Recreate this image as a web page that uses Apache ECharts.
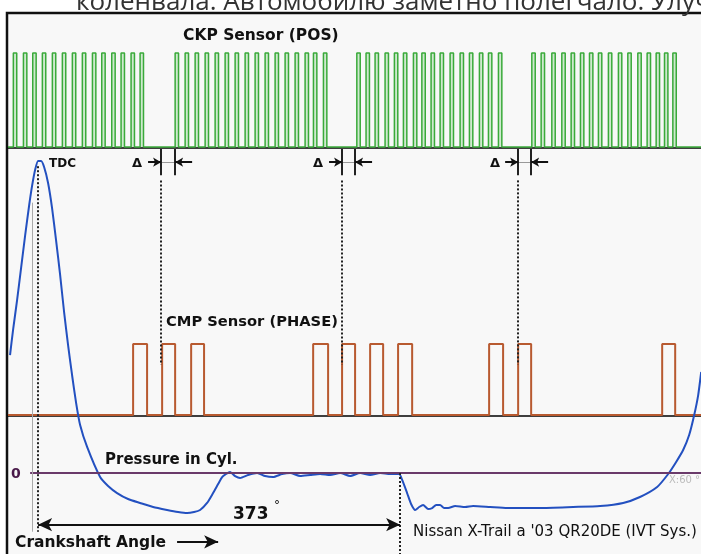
<!DOCTYPE html>
<html>
<head>
<meta charset="utf-8">
<script src="https://cdn.jsdelivr.net/npm/echarts@6/dist/echarts.min.js"></script>
<style>
html, body { margin: 0; padding: 0; background: #fff; }
#chart { width: 701px; height: 554px; }
</style>
</head>
<body>
<div id="chart"></div>
<script>
// crank angle range shown (deg, TDC = 0)
let axisMin = -31
let axisMax = 683

// CKP (POS) sensor: rising edge of every tooth, deg
let ckpTeeth = [-25.5, -15.1, -5.5, 4.4, 14.7, 25.0, 35.3, 45.6, 56.0, 65.6, 75.9, 85.5, 95.8, 105.1,
    141.2, 151.5, 161.8, 172.1, 182.4, 192.7, 203.0, 213.3, 223.6, 233.9, 244.2, 254.5, 264.8, 275.1, 283.7, 294.0,
    328.4, 337.9, 347.2, 357.5, 367.1, 376.4, 386.7, 395.4, 404.9, 414.2, 424.5, 434.8, 444.4, 454.7, 464.0, 474.3,
    508.7, 518.3, 529.3, 539.6, 549.2, 558.8, 568.1, 577.3, 587.6, 597.9, 607.6, 617.9, 627.5, 636.8, 645.4, 654.0]
let ckpToothWidth = 3.5

// CMP (PHASE) sensor pulses [rise, fall], deg
let cmpPulses = [[97.9, 112.3], [127.8, 141.2], [157.7, 171.0], [283.4, 298.8], [313.2, 326.6],
    [342.1, 355.5], [370.9, 385.4], [464.7, 479.1], [494.6, 508.0], [643.0, 656.4]]

// pressure in cylinder
let pressureAngle = [-28.9, -25.8, -21.6, -17.5, -13.4, -9.3, -6.2, -3.1, 0, 3.1, 6.2, 10.3, 14.4, 18.5,
    22.7, 26.8, 30.9, 35.0, 39.2, 43.3, 50.5,
    63.9, 72.1, 81.4, 92.7, 105.1, 118.5, 132.9, 144.3, 153.5, 160.7, 166.9, 174.1,
    180.3, 185.5, 189.6, 193.7, 197.8, 203.0, 208.1, 216.4, 225.7, 233.9, 242.1, 251.4, 259.7, 270.0,
    280.3, 290.6, 300.9, 311.2, 321.5, 331.8, 342.1, 352.4, 362.7, 372.0, 375.1, 380.2, 384.3, 388.5,
    392.6, 396.7, 401.9, 406.0, 410.1, 414.2, 418.3, 422.5, 429.7, 440.0, 448.2, 465.7, 483.3, 517.3,
    551.3, 579.1, 602.8, 620.1, 637.8, 649.2, 657.4, 664.6, 670.8, 676.0, 680.1, 683.2]
let pressureValue = [11.65, 14.12, 17.09, 20.25, 23.41, 26.37, 28.35, 29.93, 30.82, 30.82, 30.22, 28.64, 26.17, 23.01,
    19.56, 15.90, 12.64, 9.68, 6.91, 4.74, 2.57,
    -0.40, -1.28, -1.98, -2.57, -2.96, -3.36, -3.65, -3.85, -3.95, -3.85, -3.65, -2.96,
    -1.98, -1.09, -0.40, -0.10, 0.10, -0.30, -0.49, -0.20, 0, -0.30, -0.40, -0.10, 0, -0.30,
    -0.20, -0.10, -0.20, 0, -0.30, 0, -0.20, 0, -0.10, -0.10, -0.69, -1.98, -3.06, -3.65,
    -3.36, -3.16, -3.56, -3.46, -3.16, -3.16, -3.46, -3.46, -3.26, -3.36, -3.26, -3.36, -3.46, -3.46,
    -3.36, -3.26, -2.96, -2.37, -1.38, -0.10, 1.09, 2.27, 3.75, 5.73, 7.70, 9.98]

// Δ markers: CMP edge -> CKP group start, deg
let deltaMarks = [[126.7, 141.2], [313.2, 326.6], [494.6, 508.0]]
let tdcAngle = 0
let spanAngle = 373

function stepData(edges) {
    let d = [[axisMin, 0]]
    edges.forEach(e => {
        d.push([e[0], 0], [e[0], 1], [e[1], 1], [e[1], 0])
    })
    d.push([axisMax, 0])
    return d
}

function seg(x1, y1, x2, y2) {
    return [{coord: [x1, y1]}, {coord: [x2, y2]}]
}

function txt(x, y, text, font, color, align) {
    return {
        type: 'text', z: 100,
        style: {x: x, y: y, text: text, font: font, fill: color || '#111',
            textAlign: align || 'left', textVerticalAlign: 'middle'}
    }
}

let comic = '"DejaVu Sans", sans-serif'
let noLine = {show: false}

let dotted = [], deltaSolid = [], deltaThin = [], deltaArrows = []
deltaMarks.forEach(m => {
    dotted.push(seg(m[0], 28.9, m[0], 10.7))
    deltaSolid.push(seg(m[0], 32, m[0], 29.4), seg(m[1], 32, m[1], 29.4))
    deltaThin.push(seg(m[0], 30.7, m[1], 30.7))
    deltaArrows.push(seg(m[0] - 13.4, 30.7, m[0], 30.7), seg(m[1] + 17.5, 30.7, m[1], 30.7))
})
dotted.push(seg(tdcAngle, 30.3, tdcAngle, -5.8))
dotted.push(seg(spanAngle, 0, spanAngle, -8))

function markSeries(lines, style, symbol, symbolSize) {
    return {
        type: 'line', xAxisIndex: 2, yAxisIndex: 2, data: [], z: 1,
        markLine: {
            silent: true, animation: false,
            symbol: symbol || ['none', 'none'], symbolSize: symbolSize || 8,
            label: {show: false}, emphasis: {disabled: true},
            lineStyle: style, data: lines
        }
    }
}

let myChart = echarts.init(document.getElementById('chart'))
let option = {
    animation: false,
    backgroundColor: '#fff',
    grid: [
        {left: 8, right: 0, top: 53, height: 94},   // CKP
        {left: 8, right: 0, top: 344, height: 71},  // CMP
        {left: 8, right: 0, top: 149, height: 405}  // pressure
    ],
    xAxis: [0, 1, 2].map(i => ({
        type: 'value', gridIndex: i, min: axisMin, max: axisMax, show: i < 2, offset: 1,
        axisLine: {show: true, onZero: false, lineStyle: {color: '#000', width: 1.5}},
        axisTick: noLine, axisLabel: noLine, splitLine: noLine
    })),
    yAxis: [
        {type: 'value', gridIndex: 0, min: 0, max: 1, show: false},
        {type: 'value', gridIndex: 1, min: 0, max: 1, show: false},
        {type: 'value', gridIndex: 2, min: -8, max: 32, show: false}
    ],
    series: [
        markSeries([seg(-8.2, 0, axisMax, 0)], {color: '#6a3a6a', width: 2, type: 'solid'}),
        markSeries([seg(-6.2, 26.7, -6.2, -5.8)], {color: '#aaa', width: 1, type: 'solid'}),
        markSeries(dotted, {color: '#222', width: 2, type: [2, 2]}),
        markSeries(deltaThin, {color: '#999', width: 1, type: 'solid'}),
        markSeries(deltaSolid, {color: '#222', width: 2, type: 'solid'}),
        markSeries(deltaArrows, {color: '#111', width: 2, type: 'solid'}, ['none', 'arrow'], [7, 8]),
        markSeries([seg(tdcAngle, -5.1, spanAngle, -5.1)],
            {color: '#111', width: 2, type: 'solid'}, ['arrow', 'arrow'], [10, 14]),
        markSeries([seg(143.2, -6.8, 185.5, -6.8)],
            {color: '#111', width: 2, type: 'solid'}, ['none', 'arrow'], [10, 14]),
        {
            name: 'CKP Sensor (POS)', type: 'line', xAxisIndex: 0, yAxisIndex: 0, z: 3,
            data: stepData(ckpTeeth.map(t => [t, t + ckpToothWidth])),
            symbol: 'none', clip: false,
            lineStyle: {color: '#3aaa3a', width: 1.5},
            areaStyle: {color: 'rgba(120,200,120,0.45)'}
        },
        {
            name: 'CMP Sensor (PHASE)', type: 'line', xAxisIndex: 1, yAxisIndex: 1, z: 3,
            data: stepData(cmpPulses),
            symbol: 'none', clip: false,
            lineStyle: {color: '#b85a30', width: 2}
        },
        {
            name: 'Pressure in Cyl.', type: 'line', xAxisIndex: 2, yAxisIndex: 2, z: 4,
            data: pressureAngle.map((a, i) => [a, pressureValue[i]]),
            symbol: 'none', smooth: 0.2, clip: false,
            lineStyle: {color: '#2350c0', width: 2}
        }
    ],
    graphic: [
        {type: 'rect', z: -10, shape: {x: 7, y: 13, width: 720, height: 560},
            style: {fill: '#f8f8f8', stroke: '#111', lineWidth: 2.5}},
        txt(76, 3, 'коленвала. Автомобилю заметно полегчало. Улуч', '26px "Open Sans", sans-serif', '#333'),
        txt(183, 36, 'CKP Sensor (POS)', 'bold 15.5px ' + comic),
        txt(49, 164, 'TDC', 'bold 12px ' + comic),
        txt(137, 164, 'Δ', 'bold 13px ' + comic, '#111', 'center'),
        txt(318, 164, 'Δ', 'bold 13px ' + comic, '#111', 'center'),
        txt(495, 164, 'Δ', 'bold 13px ' + comic, '#111', 'center'),
        txt(166, 322, 'CMP Sensor (PHASE)', 'bold 14.7px ' + comic),
        txt(105, 460, 'Pressure in Cyl.', 'bold 15px ' + comic),
        txt(11, 474, '0', 'bold 14px ' + comic, '#4a1a4a'),
        txt(669, 480, 'X:60 °', '10px ' + comic, '#bbb'),
        txt(233, 515, '373', 'bold 17px ' + comic),
        txt(274, 506, '°', '12px ' + comic),
        txt(15, 543, 'Crankshaft Angle', 'bold 15.5px ' + comic),
        txt(413, 532, "Nissan X-Trail a '03 QR20DE (IVT Sys.)", '15px ' + comic)
    ]
}
myChart.setOption(option)
</script>
</body>
</html>
